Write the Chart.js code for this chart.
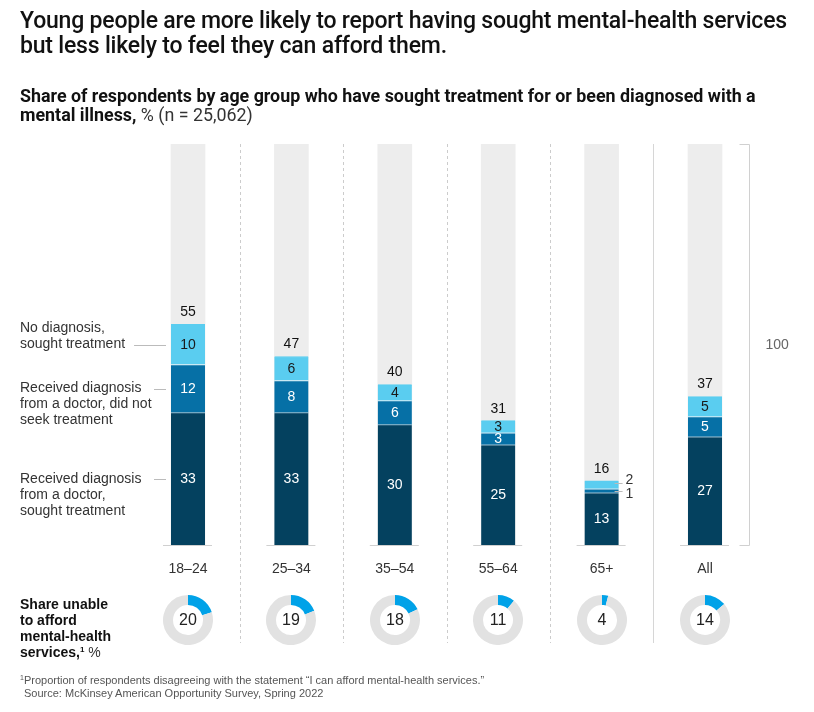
<!DOCTYPE html>
<html><head><meta charset="utf-8">
<script src="https://cdn.jsdelivr.net/npm/chart.js@4.4.0/dist/chart.umd.min.js"></script>
<style>
html,body{margin:0;padding:0;background:#fff;}
body{width:814px;height:712px;position:relative;overflow:hidden;font-family:"Liberation Sans",Arial,sans-serif;color:#222;}
#main{position:absolute;left:0;top:0;}
.t{position:absolute;left:20px;white-space:nowrap;}
#title{top:8px;font-family:Roboto,"Liberation Sans",sans-serif;font-weight:500;font-size:21px;line-height:25px;color:#111;letter-spacing:-0.2px;}
#sub{top:86px;font-family:Roboto,"Liberation Sans",sans-serif;font-weight:bold;font-size:16px;line-height:19px;color:#111;}
#sub .reg{font-weight:normal;color:#333;}
#afford{top:596px;font-weight:bold;font-size:14px;line-height:16px;color:#111;}
#afford .reg{font-weight:normal;color:#333;}
#afford sup{font-size:8px;vertical-align:5px;line-height:0;}
#foot{top:674px;font-size:11px;line-height:13px;color:#555;}
#foot sup{font-size:7px;vertical-align:4px;line-height:0;}
.donut{position:absolute;}
</style></head><body>
<canvas id="main" width="814" height="712"></canvas>
<div class="t" id="title"><div class="fit" data-w="766">Young people are more likely to report having sought mental-health services</div><div>but less likely to feel they can afford them.</div></div>
<div class="t" id="sub"><div class="fit" data-w="736">Share of respondents by age group who have sought treatment for or been diagnosed with a</div><div>mental illness, <span class="reg">% (n = 25,062)</span></div></div>
<div class="t" id="afford"><div>Share unable</div><div>to afford</div><div>mental-health</div><div>services,<sup>1</sup> <span class="reg">%</span></div></div>
<div class="t" id="foot"><div><sup>1</sup>Proportion of respondents disagreeing with the statement “I can afford mental-health services.”</div><div style="padding-left:4px">Source: McKinsey American Opportunity Survey, Spring 2022</div></div>
<script>
// ---- data ----
const categories = ['18–24', '25–34', '35–54', '55–64', '65+', 'All'];
const diagnosedSought = [33, 33, 30, 25, 13, 27];
const diagnosedNotSought = [12, 8, 6, 3, 1, 5];
const noDiagnosisSought = [10, 6, 4, 3, 2, 5];
const totals = [55, 47, 40, 31, 16, 37];
const fullScale = [100, 100, 100, 100, 100, 100];
const unableToAfford = [20, 19, 18, 11, 4, 14];
const seriesLines = [
  ['Received diagnosis', 'from a doctor,', 'sought treatment'],
  ['Received diagnosis', 'from a doctor, did not', 'seek treatment'],
  ['No diagnosis,', 'sought treatment']
];
const bracketLabel = '100';

// ---- text fitting (scale font size so the first line matches the reference width) ----
document.querySelectorAll('.fit').forEach(el => {
  const target = +el.dataset.w;
  const p = el.parentNode;
  const r = document.createRange(); r.selectNodeContents(el);
  const w = r.getBoundingClientRect().width;
  const fs = parseFloat(getComputedStyle(p).fontSize);
  p.style.fontSize = (fs * target / w) + 'px';
});

const FONT = '"Liberation Sans", Arial, sans-serif';
const colors = ['#04415f', '#0670a6', '#5acdf0'];
const topBorder = ['#9dbdcd', '#e4f2f8', '#5acdf0'];

const decor = {
  id: 'decor',
  beforeDatasetsDraw(chart) {
    const ctx = chart.ctx, xs = chart.scales.x, ys = chart.scales.y, ca = chart.chartArea;
    ctx.save();
    for (let i = 0; i < categories.length - 1; i++) {
      const x = Math.round((xs.getPixelForValue(i) + xs.getPixelForValue(i + 1)) / 2) + 0.5;
      ctx.beginPath();
      ctx.strokeStyle = i === categories.length - 2 ? '#d6d6d6' : '#cccccc';
      ctx.lineWidth = 1;
      ctx.setLineDash(i === categories.length - 2 ? [] : [3, 3]);
      ctx.moveTo(x, ca.top); ctx.lineTo(x, 643); ctx.stroke();
    }
    ctx.setLineDash([]);
    const y0 = Math.round(ys.getPixelForValue(0)) + 0.5;
    ctx.strokeStyle = '#d0d0d0';
    for (let i = 0; i < categories.length; i++) {
      const cx = xs.getPixelForValue(i);
      ctx.beginPath(); ctx.moveTo(cx - 25, y0); ctx.lineTo(cx + 24, y0); ctx.stroke();
    }
    const bx = Math.round(xs.getPixelForValue(categories.length - 1) + 44) + 0.5;
    const yt = Math.round(ys.getPixelForValue(100)) + 0.5;
    ctx.strokeStyle = '#d0d0d0';
    ctx.beginPath();
    ctx.moveTo(bx - 10, yt); ctx.lineTo(bx, yt); ctx.lineTo(bx, y0); ctx.lineTo(bx - 10, y0);
    ctx.stroke();
    ctx.fillStyle = '#666'; ctx.font = '14px ' + FONT; ctx.textBaseline = 'middle'; ctx.textAlign = 'left';
    ctx.fillText(bracketLabel, bx + 16, (yt + y0) / 2);
    ctx.restore();
  },
  afterDatasetsDraw(chart) {
    const ctx = chart.ctx, xs = chart.scales.x;
    ctx.save();
    ctx.font = '14px ' + FONT;
    ctx.textBaseline = 'middle';
    for (let d = 1; d <= 3; d++) {
      const meta = chart.getDatasetMeta(d);
      meta.data.forEach((bar, i) => {
        const v = chart.data.datasets[d].data[i];
        const h = Math.abs(bar.base - bar.y);
        const cy = (bar.y + bar.base) / 2;
        if (h >= 10) {
          ctx.textAlign = 'center';
          ctx.fillStyle = d === 3 ? '#1a1a1a' : '#ffffff';
          ctx.fillText(String(v), bar.x, cy + 0.5);
        } else {
          const right = bar.x + bar.width / 2;
          ctx.strokeStyle = '#bbbbbb'; ctx.lineWidth = 1;
          const ly = d === 3 ? Math.round(cy) - 1.5 : Math.round(cy) + 0.5;
          ctx.beginPath(); ctx.moveTo(right - 4, ly); ctx.lineTo(right + 4, ly); ctx.stroke();
          ctx.textAlign = 'left'; ctx.fillStyle = '#333';
          ctx.fillText(String(v), right + 7, d === 3 ? cy - 5 : cy + 3);
        }
      });
    }
    const topMeta = chart.getDatasetMeta(3);
    topMeta.data.forEach((bar, i) => {
      ctx.textAlign = 'center'; ctx.fillStyle = '#111';
      ctx.fillText(String(totals[i]), bar.x, bar.y - 12);
    });
    ctx.fillStyle = '#333';
    categories.forEach((c, i) => {
      ctx.textAlign = 'center';
      ctx.fillText(c, xs.getPixelForValue(i), 569);
    });
    ctx.textAlign = 'left'; ctx.fillStyle = '#333';
    for (let s = 0; s < 3; s++) {
      const bar = chart.getDatasetMeta(s + 1).data[0];
      const cy = (bar.y + bar.base) / 2;
      const lines = seriesLines[s];
      const anchorIdx = s === 2 ? lines.length - 1 : 0;
      lines.forEach((ln, k) => ctx.fillText(ln, 20, cy + (k - anchorIdx) * 16));
      const endX = 20 + ctx.measureText(lines[anchorIdx]).width;
      const left = bar.x - bar.width / 2;
      ctx.strokeStyle = '#bbbbbb';
      ctx.beginPath();
      ctx.moveTo(Math.max(endX + 9, s === 2 ? 0 : 154), Math.round(cy) + 0.5);
      ctx.lineTo(left - 5, Math.round(cy) + 0.5);
      ctx.stroke();
    }
    ctx.restore();
  }
};

function mk(label, data, d) {
  return {
    label, data, stack: 's', grouped: false, order: 1, barThickness: 34,
    backgroundColor: colors[d], borderColor: topBorder[d],
    borderWidth: { top: 1, left: 0, right: 0, bottom: 0 }, borderSkipped: 'bottom'
  };
}

const main = new Chart(document.getElementById('main'), {
  type: 'bar',
  data: {
    labels: categories,
    datasets: [
      { label: 'Total', data: fullScale, stack: 'bg', grouped: false, order: 10, barThickness: 34, backgroundColor: '#ededed', borderWidth: 0 },
      mk(seriesLines[0].join(' '), diagnosedSought, 0),
      mk(seriesLines[1].join(' '), diagnosedNotSought, 1),
      mk(seriesLines[2].join(' '), noDiagnosisSought, 2)
    ]
  },
  options: {
    responsive: false, animation: false, devicePixelRatio: 1,
    layout: { padding: { left: 136.3, right: 57.3, top: 144, bottom: 167 } },
    plugins: { legend: { display: false }, tooltip: { enabled: false } },
    scales: {
      x: { display: false, stacked: true },
      y: { display: false, stacked: true, min: 0, max: 100 }
    }
  },
  plugins: [decor]
});

const centerText = {
  id: 'centerText',
  afterDraw(chart) {
    const ctx = chart.ctx, a = chart.chartArea;
    ctx.save();
    ctx.font = '16px ' + FONT; ctx.fillStyle = '#222';
    ctx.textAlign = 'center'; ctx.textBaseline = 'middle';
    ctx.fillText(String(chart.data.datasets[0].data[0]), (a.left + a.right) / 2, (a.top + a.bottom) / 2 + 1);
    ctx.restore();
  }
};
unableToAfford.forEach((v, i) => {
  const cx = main.scales.x.getPixelForValue(i);
  const c = document.createElement('canvas');
  c.width = 50; c.height = 50; c.className = 'donut';
  c.style.left = (cx - 25) + 'px'; c.style.top = '595px';
  document.body.appendChild(c);
  new Chart(c, {
    type: 'doughnut',
    data: { labels: ['Unable to afford', 'Other'], datasets: [{ data: [v, 100 - v], backgroundColor: ['#00a2e8', '#e2e2e2'], borderWidth: 0 }] },
    options: {
      responsive: false, animation: false, devicePixelRatio: 1, cutout: '60%',
      plugins: { legend: { display: false }, tooltip: { enabled: false } }
    },
    plugins: [centerText]
  });
});
</script>
</body></html>
